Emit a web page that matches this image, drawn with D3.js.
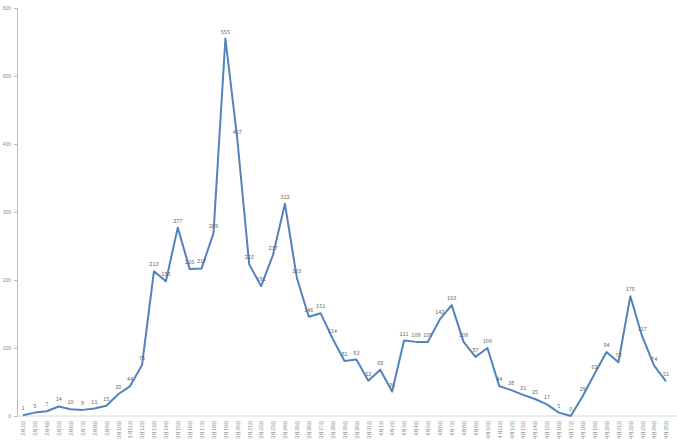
<!DOCTYPE html>
<html>
<head>
<meta charset="utf-8">
<script src="https://cdn.jsdelivr.net/npm/d3@7"></script>
<style>
  body { margin: 0; background: #fff; }
  svg { display: block; font-family: "Noto Sans CJK SC", "Noto Sans", sans-serif; }
</style>
</head>
<body>
<div id="chart"></div>
<script>
// daily counts, 3月2日 .. 4月25日
var dates = [];
for (var i = 2; i <= 31; i++) dates.push("3月" + i + "日");
for (var j = 1; j <= 25; j++) dates.push("4月" + j + "日");

var values = [1, 5, 7, 14, 10, 9, 11, 15, 32, 44,
              75, 213, 198, 277, 216, 217, 269, 555, 407, 223,
              191, 237, 312, 203, 146, 151, 114, 81, 83, 52,
              68, 36, 111, 109, 109, 142, 163, 109, 87, 100,
              44, 38, 31, 25, 17, 5, 0, 29, 62, 94,
              79, 176, 117, 74, 51];

var yTicks = [0, 100, 200, 300, 400, 500, 600];

var W = 677, H = 445;
var mLeft = 17, mRight = 672, mTop = 8, mBottom = 416;

var svg = d3.select("#chart").append("svg")
    .attr("width", W)
    .attr("height", H);

var x = d3.scalePoint()
    .domain(dates)
    .range([mLeft, mRight])
    .padding(0.5);

var y = d3.scaleLinear()
    .domain([0, 600])
    .range([mBottom, mTop]);

// y axis
var yAxis = svg.append("g")
    .attr("transform", "translate(" + mLeft + ",0)")
    .call(d3.axisLeft(y).tickValues(yTicks).tickSize(3).tickPadding(3));
yAxis.select(".domain").attr("stroke", "#a9bcd6");
yAxis.selectAll(".tick line").attr("stroke", "#a9bcd6");
yAxis.selectAll(".tick text")
    .attr("fill", "#8c8c8c")
    .style("font-size", "5px");

// x axis
var xAxis = svg.append("g")
    .attr("transform", "translate(0," + mBottom + ")")
    .call(d3.axisBottom(x).tickSize(0).tickPadding(0));
xAxis.select(".domain").attr("stroke", "#d9d9d9").attr("d", "M" + mLeft + ",0H" + W);
xAxis.selectAll(".tick text")
    .attr("fill", "#8c8c8c")
    .style("font-size", "5.2px")
    .attr("text-anchor", "end")
    .attr("transform", "rotate(-90)")
    .attr("x", -4)
    .attr("y", 0)
    .attr("dy", "0.35em");

// line
var line = d3.line()
    .x(function(d, i){ return x(dates[i]); })
    .y(function(d){ return y(d); });

svg.append("path")
    .datum(values)
    .attr("fill", "none")
    .attr("stroke", "#5283bb")
    .attr("stroke-width", 2)
    .attr("stroke-linejoin", "round")
    .attr("d", line);

// data labels
svg.selectAll(".lbl")
    .data(values)
    .enter().append("text")
    .attr("class", "lbl")
    .attr("x", function(d, i){ return x(dates[i]); })
    .attr("y", function(d){ return y(d) - 5; })
    .attr("text-anchor", "middle")
    .attr("fill", "#666666")
    .style("font-size", "5.5px")
    .text(function(d){ return d; });
</script>
</body>
</html>
